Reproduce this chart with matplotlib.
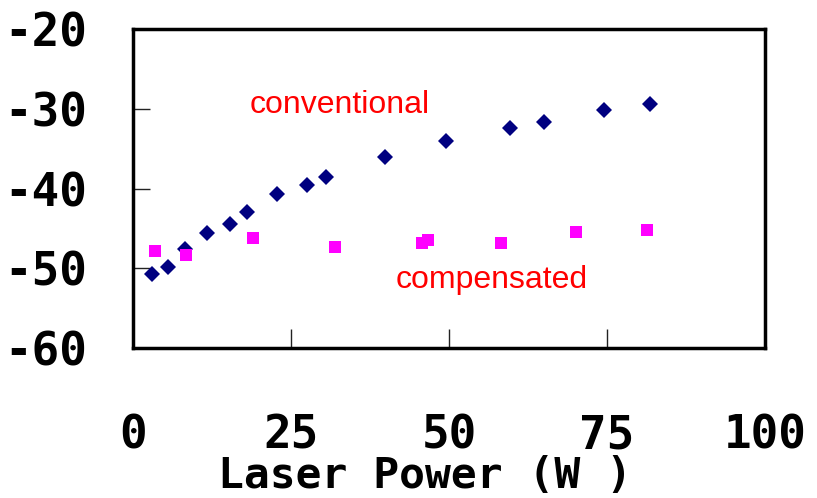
import matplotlib
matplotlib.use("Agg")
import matplotlib.pyplot as plt

# Data
conv_x = [2.95, 5.5, 8.3, 11.7, 15.3, 18.1, 22.8, 27.5, 30.6, 39.9, 49.5, 59.7, 65.0, 74.6, 81.8]
conv_y = [-50.7, -49.9, -47.6, -45.6, -44.5, -42.9, -40.7, -39.6, -38.6, -36.1, -34.0, -32.4, -31.6, -30.2, -29.4]

comp_x = [3.5, 8.4, 19.0, 32.0, 45.7, 46.6, 58.3, 70.1, 81.3]
comp_y = [-47.8, -48.4, -46.2, -47.3, -46.8, -46.5, -46.8, -45.4, -45.2]

x_ticks = [0, 25, 50, 75, 100]
x_tick_labels = ["0", "25", "50", "75", "100"]
y_ticks = [-20, -30, -40, -50, -60]
y_tick_labels = ["-20", "-30", "-40", "-50", "-60"]

x_label = "Laser Power (W )"
label_conv = "conventional"
label_comp = "compensated"

fig = plt.figure(figsize=(8.17, 4.98), dpi=100)
ax = fig.add_axes([133 / 817, 150 / 498, 632 / 817, 319 / 498])

ax.plot(conv_x, conv_y, linestyle="none", marker="D", markersize=8.6,
        color="#000080", markeredgewidth=0, zorder=3)
ax.plot(comp_x, comp_y, linestyle="none", marker="s", markersize=8.3,
        color="#FF00FF", markeredgewidth=0, zorder=4)

ax.set_xlim(0, 100)
ax.set_ylim(-60, -20)

ax.set_xticks(x_ticks)
ax.set_xticklabels(x_tick_labels)
ax.set_yticks(y_ticks)
ax.set_yticklabels(y_tick_labels)

for lab in ax.get_xticklabels() + ax.get_yticklabels():
    lab.set_fontfamily("DejaVu Sans Mono")
    lab.set_fontweight("bold")
    lab.set_fontsize(33)

ax.tick_params(axis="x", direction="in", length=14, width=1.0, color="#222222", pad=47)
ax.tick_params(axis="y", direction="in", length=12, width=1.0, color="#222222", pad=33)

for sp in ax.spines.values():
    sp.set_linewidth(2.5)
    sp.set_color("black")

ax.text(18.5, -30.53, label_conv, color="#FF0000", fontsize=23,
        family="Liberation Sans", ha="left", va="baseline")
ax.text(41.6, -52.48, label_comp, color="#FF0000", fontsize=23,
        family="Liberation Sans", ha="left", va="baseline")

fig.text(425 / 817, 1 - 455 / 498, x_label, family="DejaVu Sans Mono",
         weight="bold", fontsize=31, ha="center", va="top")

fig.savefig("out.png", dpi=100)
